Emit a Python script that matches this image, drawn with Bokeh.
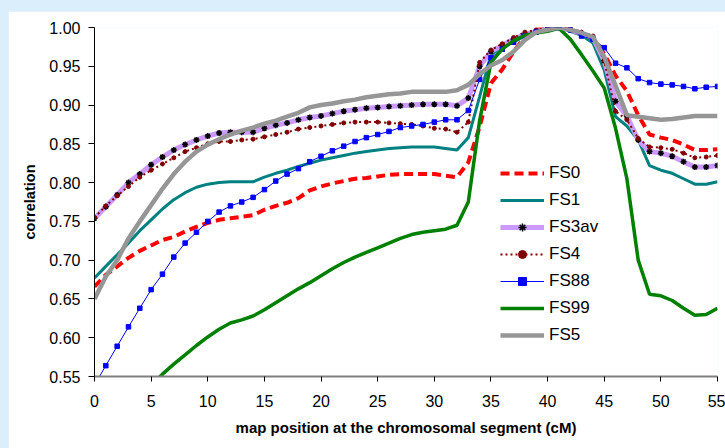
import numpy as np
from bokeh.plotting import figure
from bokeh.models import Range1d, FixedTicker, PrintfTickFormatter, Legend, LegendItem, Spacer, Title
from bokeh.layouts import column, row
from bokeh.embed import file_html
from bokeh.resources import INLINE

x_pos = list(range(56))
x_ticks = [0, 5, 10, 15, 20, 25, 30, 35, 40, 45, 50, 55]
y_ticks = [0.55, 0.60, 0.65, 0.70, 0.75, 0.80, 0.85, 0.90, 0.95, 1.00]

fs0 = [0.666, 0.681, 0.692, 0.703, 0.712, 0.719, 0.726, 0.730, 0.737, 0.743,
       0.748, 0.752, 0.754, 0.756, 0.758, 0.765, 0.770, 0.774, 0.780, 0.790,
       0.795, 0.799, 0.802, 0.805, 0.806, 0.808, 0.810, 0.811, 0.811, 0.811,
       0.811, 0.809, 0.807, 0.826, 0.872, 0.928, 0.946, 0.969, 0.988, 0.997,
       1.000, 1.000, 0.998, 0.993, 0.986, 0.966, 0.938, 0.918, 0.887, 0.862,
       0.858, 0.855, 0.849, 0.842, 0.842, 0.843]
fs1 = [0.677, 0.692, 0.707, 0.722, 0.738, 0.752, 0.766, 0.778, 0.787, 0.794,
       0.798, 0.800, 0.801, 0.801, 0.801, 0.807, 0.812, 0.816, 0.821, 0.825,
       0.829, 0.832, 0.835, 0.838, 0.840, 0.842, 0.844, 0.845, 0.846, 0.846,
       0.846, 0.844, 0.842, 0.858, 0.911, 0.965, 0.975, 0.981, 0.989, 0.994,
       0.998, 1.000, 0.995, 0.990, 0.980, 0.945, 0.885, 0.873, 0.855, 0.822,
       0.816, 0.812, 0.805, 0.798, 0.798, 0.801]
fs3av = [0.754, 0.769, 0.784, 0.800, 0.811, 0.823, 0.833, 0.842, 0.849, 0.855,
         0.860, 0.864, 0.865, 0.865, 0.865, 0.870, 0.874, 0.877, 0.881, 0.884,
         0.886, 0.889, 0.892, 0.894, 0.896, 0.897, 0.898, 0.899, 0.900, 0.901,
         0.901, 0.901, 0.899, 0.909, 0.950, 0.969, 0.977, 0.985, 0.991, 0.995,
         0.998, 1.000, 0.997, 0.992, 0.987, 0.957, 0.905, 0.886, 0.855, 0.840,
         0.838, 0.834, 0.827, 0.820, 0.820, 0.822]
fs4 = [0.755, 0.770, 0.783, 0.795, 0.807, 0.816, 0.824, 0.832, 0.840, 0.845,
       0.850, 0.853, 0.853, 0.855, 0.856, 0.859, 0.862, 0.865, 0.869, 0.871,
       0.873, 0.875, 0.877, 0.878, 0.878, 0.878, 0.877, 0.876, 0.875, 0.873,
       0.870, 0.869, 0.865, 0.878, 0.955, 0.971, 0.979, 0.987, 0.994, 0.997,
       0.999, 1.000, 0.999, 0.994, 0.989, 0.957, 0.892, 0.881, 0.857, 0.846,
       0.845, 0.843, 0.838, 0.832, 0.833, 0.835]
fs88 = [0.539, 0.564, 0.589, 0.614, 0.638, 0.662, 0.682, 0.704, 0.722, 0.736,
        0.750, 0.762, 0.770, 0.775, 0.781, 0.791, 0.802, 0.811, 0.818, 0.827,
        0.834, 0.841, 0.847, 0.853, 0.858, 0.862, 0.866, 0.871, 0.873, 0.875,
        0.878, 0.881, 0.881, 0.893, 0.933, 0.961, 0.972, 0.981, 0.989, 0.994,
        0.999, 1.000, 0.997, 0.989, 0.985, 0.974, 0.954, 0.948, 0.934, 0.929,
        0.927, 0.926, 0.924, 0.921, 0.923, 0.924]
fs99 = [None, None, None, None, None, 0.539, 0.553, 0.566, 0.578, 0.590,
        0.601, 0.611, 0.619, 0.623, 0.628, 0.636, 0.645, 0.654, 0.663, 0.671,
        0.680, 0.689, 0.697, 0.704, 0.710, 0.716, 0.722, 0.728, 0.733, 0.736,
        0.738, 0.740, 0.745, 0.775, 0.880, 0.955, 0.972, 0.983, 0.990, 0.993,
        0.995, 0.999, 0.985, 0.965, 0.944, 0.922, 0.870, 0.805, 0.700, 0.656,
        0.654, 0.648, 0.638, 0.629, 0.630, 0.638]
fs5 = [0.650, 0.679, 0.700, 0.728, 0.750, 0.771, 0.792, 0.811, 0.827, 0.840,
       0.849, 0.856, 0.862, 0.867, 0.871, 0.876, 0.880, 0.885, 0.890, 0.897,
       0.900, 0.902, 0.905, 0.907, 0.910, 0.912, 0.914, 0.915, 0.917, 0.917,
       0.917, 0.917, 0.919, 0.926, 0.940, 0.951, 0.958, 0.969, 0.984, 0.994,
       0.997, 1.000, 0.997, 0.993, 0.988, 0.962, 0.925, 0.887, 0.885, 0.883,
       0.881, 0.882, 0.884, 0.886, 0.886, 0.886]

def arr(v):
    return np.array([np.nan if a is None else a for a in v], dtype=float)

FONT = "Liberation Sans"

p = figure(width=717, height=437, output_backend="svg", toolbar_location=None,
           x_range=Range1d(0, 55), y_range=Range1d(0.55, 1.0),
           min_border_left=86, min_border_right=8, min_border_top=16, min_border_bottom=72)
p.background_fill_color = "white"
p.border_fill_color = "white"
p.outline_line_color = None
p.xgrid.visible = False
p.ygrid.visible = False

xs = np.array(x_pos, dtype=float)
r_fs0 = p.line(xs, arr(fs0), line_color="#FF0000", line_width=4, line_dash="9 5")
r_fs1 = p.line(xs, arr(fs1), line_color="#008080", line_width=3)
r_fs3l = p.line(xs, arr(fs3av), line_color="#CC99FF", line_width=5)
r_fs3m = p.scatter(xs, arr(fs3av), marker="asterisk", size=6, line_color="black", line_width=1.5)
r_fs4l = p.line(xs, arr(fs4), line_color="#800000", line_width=2, line_dash="2 3")
r_fs4m = p.scatter(xs, arr(fs4), marker="circle", size=4, fill_color="#800000", line_color="#800000")
r_fs88l = p.line(xs, arr(fs88), line_color="#0000FF", line_width=1)
r_fs88m = p.scatter(xs, arr(fs88), marker="square", size=4.5, fill_color="#0000FF", line_color="#0000FF")
r_fs99 = p.line(xs, arr(fs99), line_color="#008000", line_width=3.5)
r_fs5 = p.line(xs, arr(fs5), line_color="#969696", line_width=4.5)

legend = Legend(items=[
    LegendItem(label="FS0", renderers=[r_fs0]),
    LegendItem(label="FS1", renderers=[r_fs1]),
    LegendItem(label="FS3av", renderers=[r_fs3l, r_fs3m]),
    LegendItem(label="FS4", renderers=[r_fs4l, r_fs4m]),
    LegendItem(label="FS88", renderers=[r_fs88l, r_fs88m]),
    LegendItem(label="FS99", renderers=[r_fs99]),
    LegendItem(label="FS5", renderers=[r_fs5]),
], location=(406, 31))
legend.padding = 0
legend.margin = 0
legend.border_line_color = None
legend.background_fill_alpha = 0
legend.glyph_width = 44
legend.glyph_height = 20
legend.label_height = 20
legend.spacing = 7
legend.label_standoff = 5
legend.label_text_font = FONT
legend.label_text_font_size = "17px"
legend.label_text_color = "black"
p.add_layout(legend)

xa = p.xaxis[0]
xa.ticker = FixedTicker(ticks=x_ticks)
xa.axis_line_color = "#808080"
xa.axis_line_width = 2
xa.major_tick_line_color = "black"
xa.major_tick_out = 5
xa.major_tick_in = 0
xa.minor_tick_line_color = None
xa.major_label_text_font = FONT
xa.major_label_text_font_size = "16px"
xa.major_label_text_color = "black"
xa.major_label_standoff = 13

x_title = Title(text="map position at the chromosomal segment (cM)", align="center",
                offset=-24, standoff=14, text_font=FONT, text_font_size="15px",
                text_font_style="bold", text_color="black")
p.add_layout(x_title, "below")

ya = p.yaxis[0]
ya.ticker = FixedTicker(ticks=y_ticks)
ya.formatter = PrintfTickFormatter(format="%.2f")
ya.axis_line_color = "black"
ya.axis_line_width = 1
ya.major_tick_line_color = "black"
ya.major_tick_out = 6
ya.major_tick_in = 0
ya.minor_tick_line_color = None
ya.major_label_text_font = FONT
ya.major_label_text_font_size = "16px"
ya.major_label_text_color = "black"
ya.major_label_standoff = 8
ya.axis_label = "correlation"
ya.axis_label_text_font = FONT
ya.axis_label_text_font_size = "14.5px"
ya.axis_label_text_font_style = "bold"
ya.axis_label_text_color = "black"
ya.axis_label_standoff = 8

layout = row(Spacer(width=8, height=448),
             column(Spacer(width=717, height=11), p, spacing=0),
             spacing=0)

html = file_html(layout, INLINE)
html = html.replace("</head>",
                    "<style>html, body { background-color: #DAEEFC !important; }</style></head>", 1)
open("out.html", "w").write(html)
